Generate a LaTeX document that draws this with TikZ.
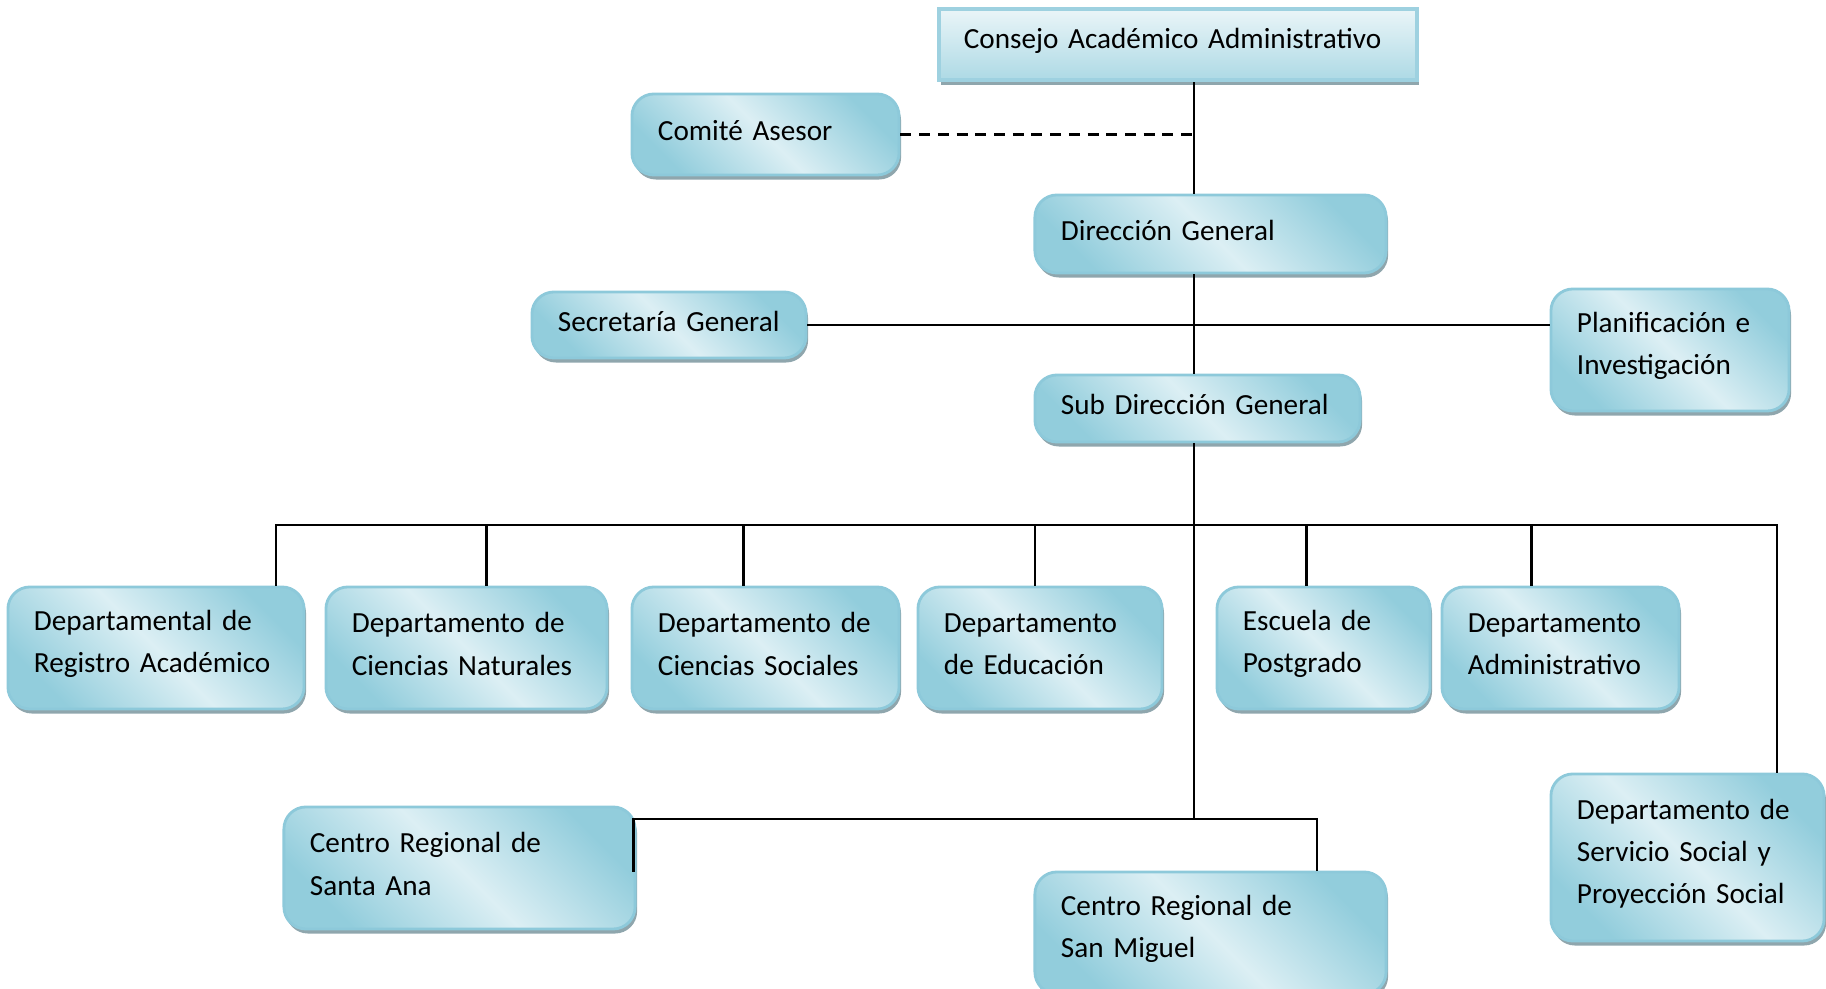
\documentclass[tikz,border=0pt]{standalone}
\usepackage{fontspec}
\setmainfont{Carlito}
\usetikzlibrary{shadows}
\definecolor{boxdark}{HTML}{92CDDC}
\definecolor{boxlight}{HTML}{DCEFF4}
\definecolor{boxedge}{HTML}{8DC9DA}
\definecolor{boxshadow}{HTML}{8FA6AD}
\definecolor{counciltop}{HTML}{EAF5F8}
\newcommand\unitpad{\par\nointerlineskip\vskip0.08cm\null}
\begin{document}
\begin{tikzpicture}[x=0.01cm,y=-0.01cm,
	unit/.style={draw=boxedge, line width=0.8pt, rounded corners=0.22cm,
		top color=boxdark, bottom color=boxdark, middle color=boxlight, shading angle=-45,
		drop shadow={shadow xshift=0.02cm, shadow yshift=-0.045cm, fill=boxshadow, opacity=1},
		font=\fontsize{8.3}{12}\selectfont, align=left, inner xsep=0.22cm, inner ysep=0pt,
		execute at begin node={\leftskip=0.04cm},
		execute at end node=\unitpad},
	council/.style={unit, rounded corners=0pt, line width=1.3pt, draw=boxedge!85,
		top color=counciltop, bottom color=boxdark!75, shading angle=0},
	link/.style={line width=0.6pt}]
	\useasboundingbox (0,0) rectangle (1826,989);
	
	\node[council, text width=4.36cm, minimum height=0.71cm, inner xsep=0.21cm] (consejo) at (1178,44.5) {Consejo Académico Administrativo};
	\node[unit, text width=2.23cm, minimum height=0.81cm] (comite) at (765.5,134.5) {Comité Asesor};
	\node[unit, text width=3.07cm, minimum height=0.78cm] (direccion) at (1210.5,234) {Dirección General};
	\node[unit, text width=2.30cm, minimum height=0.66cm] (secretaria) at (669,325) {Secretaría General};
	\node[unit, text width=1.94cm, minimum height=1.22cm] (planif) at (1670,350) {Planificación e\\Investigación};
	\node[unit, text width=2.81cm, minimum height=0.67cm] (subdir) at (1197.5,408.5) {Sub Dirección General};
	
	\node[unit, text width=2.52cm, minimum height=1.22cm] (registro) at (156,648) {Departamental de\\Registro Académico};
	\node[unit, text width=2.37cm, minimum height=1.22cm] (naturales) at (466.5,648) {Departamento de\\Ciencias Naturales};
	\node[unit, text width=2.23cm, minimum height=1.22cm] (sociales) at (765.5,648) {Departamento de\\Ciencias Sociales};
	\node[unit, text width=2.00cm, minimum height=1.22cm] (educacion) at (1040,648) {Departamento\\de Educación};
	\node[unit, text width=1.69cm, minimum height=1.22cm] (postgrado) at (1323.5,648) {Escuela de\\Postgrado};
	\node[unit, text width=1.93cm, minimum height=1.22cm] (admin) at (1560.5,648) {Departamento\\Administrativo};
	
	\node[unit, text width=3.07cm, minimum height=1.22cm] (santaana) at (459.5,868) {Centro Regional de\\Santa Ana};
	\node[unit, text width=3.07cm, minimum height=1.22cm] (sanmiguel) at (1210.5,933) {Centro Regional de\\San Miguel};
	\node[unit, text width=2.29cm, minimum height=1.67cm] (servicio) at (1687.5,857.5) {Departamento de\\Servicio Social y\\Proyección Social};
	
	\coordinate (trunk) at (1194,0);
	\coordinate (bus) at (1194,525);
	\coordinate (lowbus) at (1194,819);
	
	\draw[link] (consejo.south -| trunk) -- (direccion.north -| trunk);
	\draw[link, line width=0.85pt, dash pattern=on 0.11cm off 0.077cm] (comite.east) -- (comite.east -| trunk) -- ++(5,0);
	\draw[link] (direccion.south -| trunk) -- (subdir.north -| trunk);
	\draw[link] (secretaria.east) -- (secretaria.east -| planif.west);
	\draw[link] (subdir.south -| trunk) -- (lowbus);
	\foreach \n/\d in {registro/1.2cm, naturales/0.2cm, sociales/-0.22cm, educacion/-0.05cm, postgrado/-0.17cm, admin/-0.29cm, servicio/0.89cm}
		\draw[link] ([xshift=\d]\n.north) |- (bus);
	\draw[link] (lowbus) -| ([xshift=-0.03cm,yshift=-0.66cm]santaana.north east);
	\draw[link] (lowbus) -| ([xshift=1.065cm]sanmiguel.north);
\end{tikzpicture}
\end{document}
